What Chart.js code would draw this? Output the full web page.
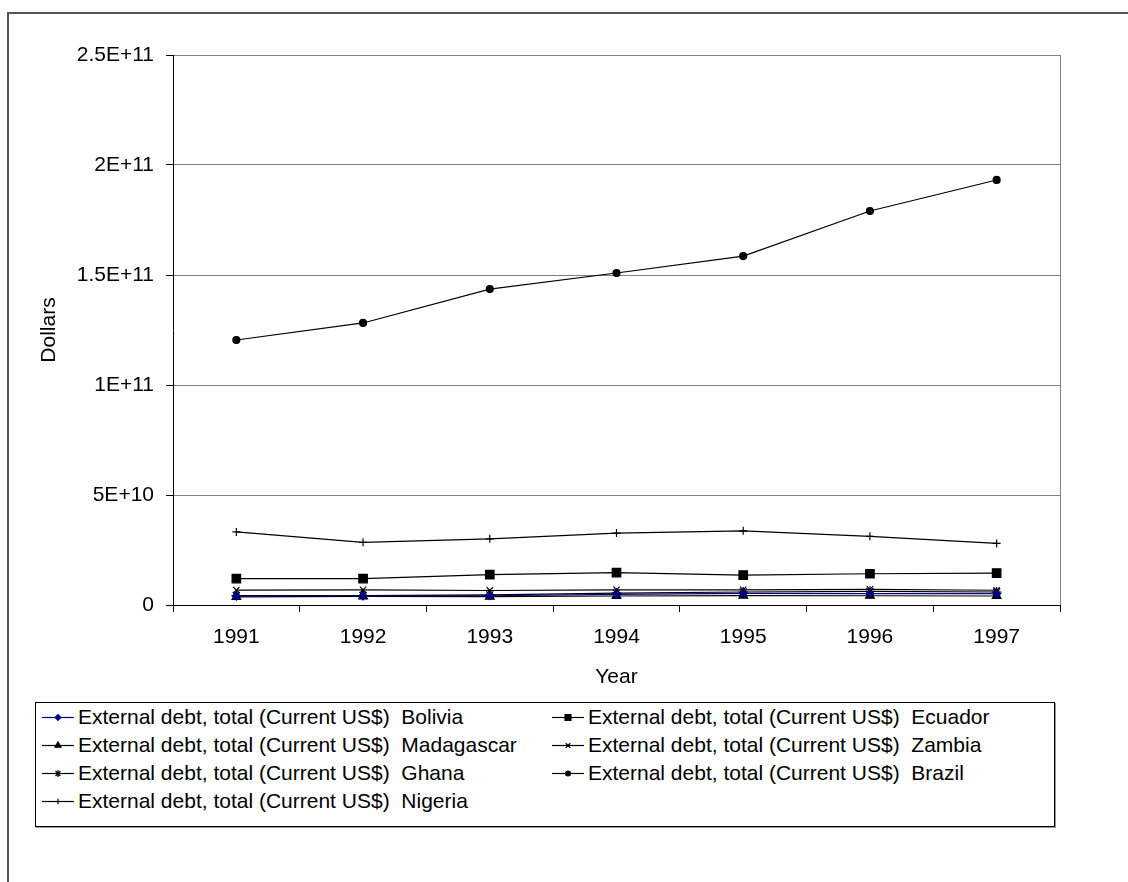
<!DOCTYPE html>
<html>
<head>
<meta charset="utf-8">
<script src="https://cdn.jsdelivr.net/npm/chart.js@4"></script>
<style>
    body { margin: 0; background: #fff; font-family: "Liberation Sans", Arial, sans-serif; }
    #frame { position: absolute; left: 7px; top: 12px; width: 1130px; height: 880px; border-top: 2px solid #555; border-left: 2px solid #555; }
    #chart-wrap { position: absolute; left: 0; top: 0; width: 1128px; height: 700px; }
    #legend { position: absolute; left: 35px; top: 702px; width: 1018px; height: 123px; border: 1px solid #000; box-shadow: 1px 1px 0 #999; background: #fff; }
    .legend-item { position: absolute; height: 28px; display: flex; align-items: center; font-size: 21px; white-space: pre; color: #000; }
    .legend-item canvas { margin-right: 4px; }
</style>
</head>
<body>
<div id="frame"></div>
<div id="chart-wrap"><canvas id="debt-chart"></canvas></div>
<div id="legend"></div>
<script>
// Chart data
const years = ['1991', '1992', '1993', '1994', '1995', '1996', '1997'];
const yTickLabels = ['0', '5E+10', '1E+11', '1.5E+11', '2E+11', '2.5E+11'];

const bolivia    = [4.1e9, 4.2e9, 4.2e9, 4.8e9, 5.3e9, 5.2e9, 5.2e9];
const ecuador    = [1.20e10, 1.20e10, 1.38e10, 1.47e10, 1.36e10, 1.42e10, 1.45e10];
const madagascar = [3.7e9, 3.9e9, 3.8e9, 4.1e9, 4.3e9, 4.2e9, 4.1e9];
const zambia     = [6.8e9, 6.9e9, 6.6e9, 6.9e9, 6.9e9, 7.1e9, 6.7e9];
const ghana      = [4.3e9, 4.3e9, 4.6e9, 5.4e9, 5.9e9, 6.2e9, 5.9e9];
const brazil     = [1.2045e11, 1.282e11, 1.436e11, 1.509e11, 1.586e11, 1.791e11, 1.932e11];
const nigeria    = [3.32e10, 2.85e10, 3.01e10, 3.27e10, 3.37e10, 3.12e10, 2.80e10];

const prefix = 'External debt, total (Current US$)  ';
const FONT = '"Liberation Sans", Arial, sans-serif';

const series = [
    { name: 'Bolivia',    data: bolivia,    color: '#000080', style: 'rectRot',  radius: 4 },
    { name: 'Ecuador',    data: ecuador,    color: '#000000', style: 'rect',     radius: 6 },
    { name: 'Madagascar', data: madagascar, color: '#000000', style: 'triangle', radius: 5 },
    { name: 'Zambia',     data: zambia,     color: '#000000', style: 'crossRot', radius: 4.5 },
    { name: 'Ghana',      data: ghana,      color: '#000000', style: 'star',     radius: 5 },
    { name: 'Brazil',     data: brazil,     color: '#000000', style: 'circle',   radius: 3.5 },
    { name: 'Nigeria',    data: nigeria,    color: '#000000', style: 'cross',    radius: 4 }
];

// grey right edge of the plot area
const plotFrame = {
    id: 'plotFrame',
    beforeDatasetsDraw(chart) {
        const { ctx, chartArea } = chart;
        ctx.save();
        ctx.strokeStyle = '#808080';
        ctx.lineWidth = 1;
        ctx.beginPath();
        ctx.moveTo(Math.round(chartArea.right) + 0.5, chartArea.top);
        ctx.lineTo(Math.round(chartArea.right) + 0.5, chartArea.bottom);
        ctx.stroke();
        ctx.restore();
    }
};

new Chart(document.getElementById('debt-chart').getContext('2d'), {
    type: 'line',
    data: {
        labels: years,
        datasets: series.map(s => ({
            label: prefix + s.name,
            data: s.data,
            borderColor: s.color,
            backgroundColor: s.color,
            borderWidth: 1.2,
            pointStyle: s.style,
            pointRadius: s.radius,
            pointBorderWidth: 1.2,
            pointBackgroundColor: s.color,
            pointBorderColor: s.color,
            tension: 0,
            fill: false
        }))
    },
    options: {
        responsive: true,
        maintainAspectRatio: false,
        animation: false,
        layout: { padding: { top: 55, right: 68, left: 0, bottom: 0 } },
        plugins: {
            legend: { display: false },
            tooltip: { enabled: false }
        },
        scales: {
            x: {
                offset: true,
                grid: { offset: true, drawOnChartArea: false, drawTicks: true, tickLength: 7, tickColor: '#000' },
                border: { color: '#000', width: 1 },
                ticks: { color: '#000', font: { family: FONT, size: 21 }, padding: 13, maxRotation: 0 },
                title: { display: true, text: 'Year', color: '#000', font: { family: FONT, size: 21 }, padding: { top: 0, bottom: 10 } },
                afterFit(scale) { scale.height = 95; scale.paddingLeft = 0; scale.paddingRight = 0; }
            },
            y: {
                min: 0,
                max: 2.5e11,
                ticks: {
                    stepSize: 5e10,
                    color: '#000',
                    font: { family: FONT, size: 21 },
                    padding: 12,
                    callback: (value, index) => yTickLabels[index]
                },
                grid: { color: '#808080', lineWidth: 1, tickLength: 7, tickColor: '#000' },
                border: { color: '#000', width: 1 },
                title: { display: true, text: 'Dollars', color: '#000', font: { family: FONT, size: 21 }, padding: { top: 37, bottom: 0 } },
                afterFit(scale) { scale.width = 173; scale.paddingTop = 0; scale.paddingBottom = 0; }
            }
        }
    },
    plugins: [plotFrame]
});

// Two-column legend like the original
const legendBox = document.getElementById('legend');
const colX = [6, 516];
const rowTop = [0, 28, 56, 84];
series.forEach((s, i) => {
    const item = document.createElement('div');
    item.className = 'legend-item';
    item.style.left = colX[i % 2] + 'px';
    item.style.top = rowTop[Math.floor(i / 2)] + 'px';
    const c = document.createElement('canvas');
    c.width = 32; c.height = 20;
    const ctx = c.getContext('2d');
    ctx.strokeStyle = s.color;
    ctx.fillStyle = s.color;
    ctx.lineWidth = 1.2;
    ctx.beginPath();
    ctx.moveTo(0, 10.5);
    ctx.lineTo(32, 10.5);
    ctx.stroke();
    Chart.helpers.drawPoint(ctx, { pointStyle: s.style, radius: s.radius * 0.7, rotation: 0, borderWidth: 1 }, 16, 10.5);
    item.appendChild(c);
    const label = document.createElement('span');
    label.textContent = prefix + s.name;
    item.appendChild(label);
    legendBox.appendChild(item);
});
</script>
</body>
</html>
